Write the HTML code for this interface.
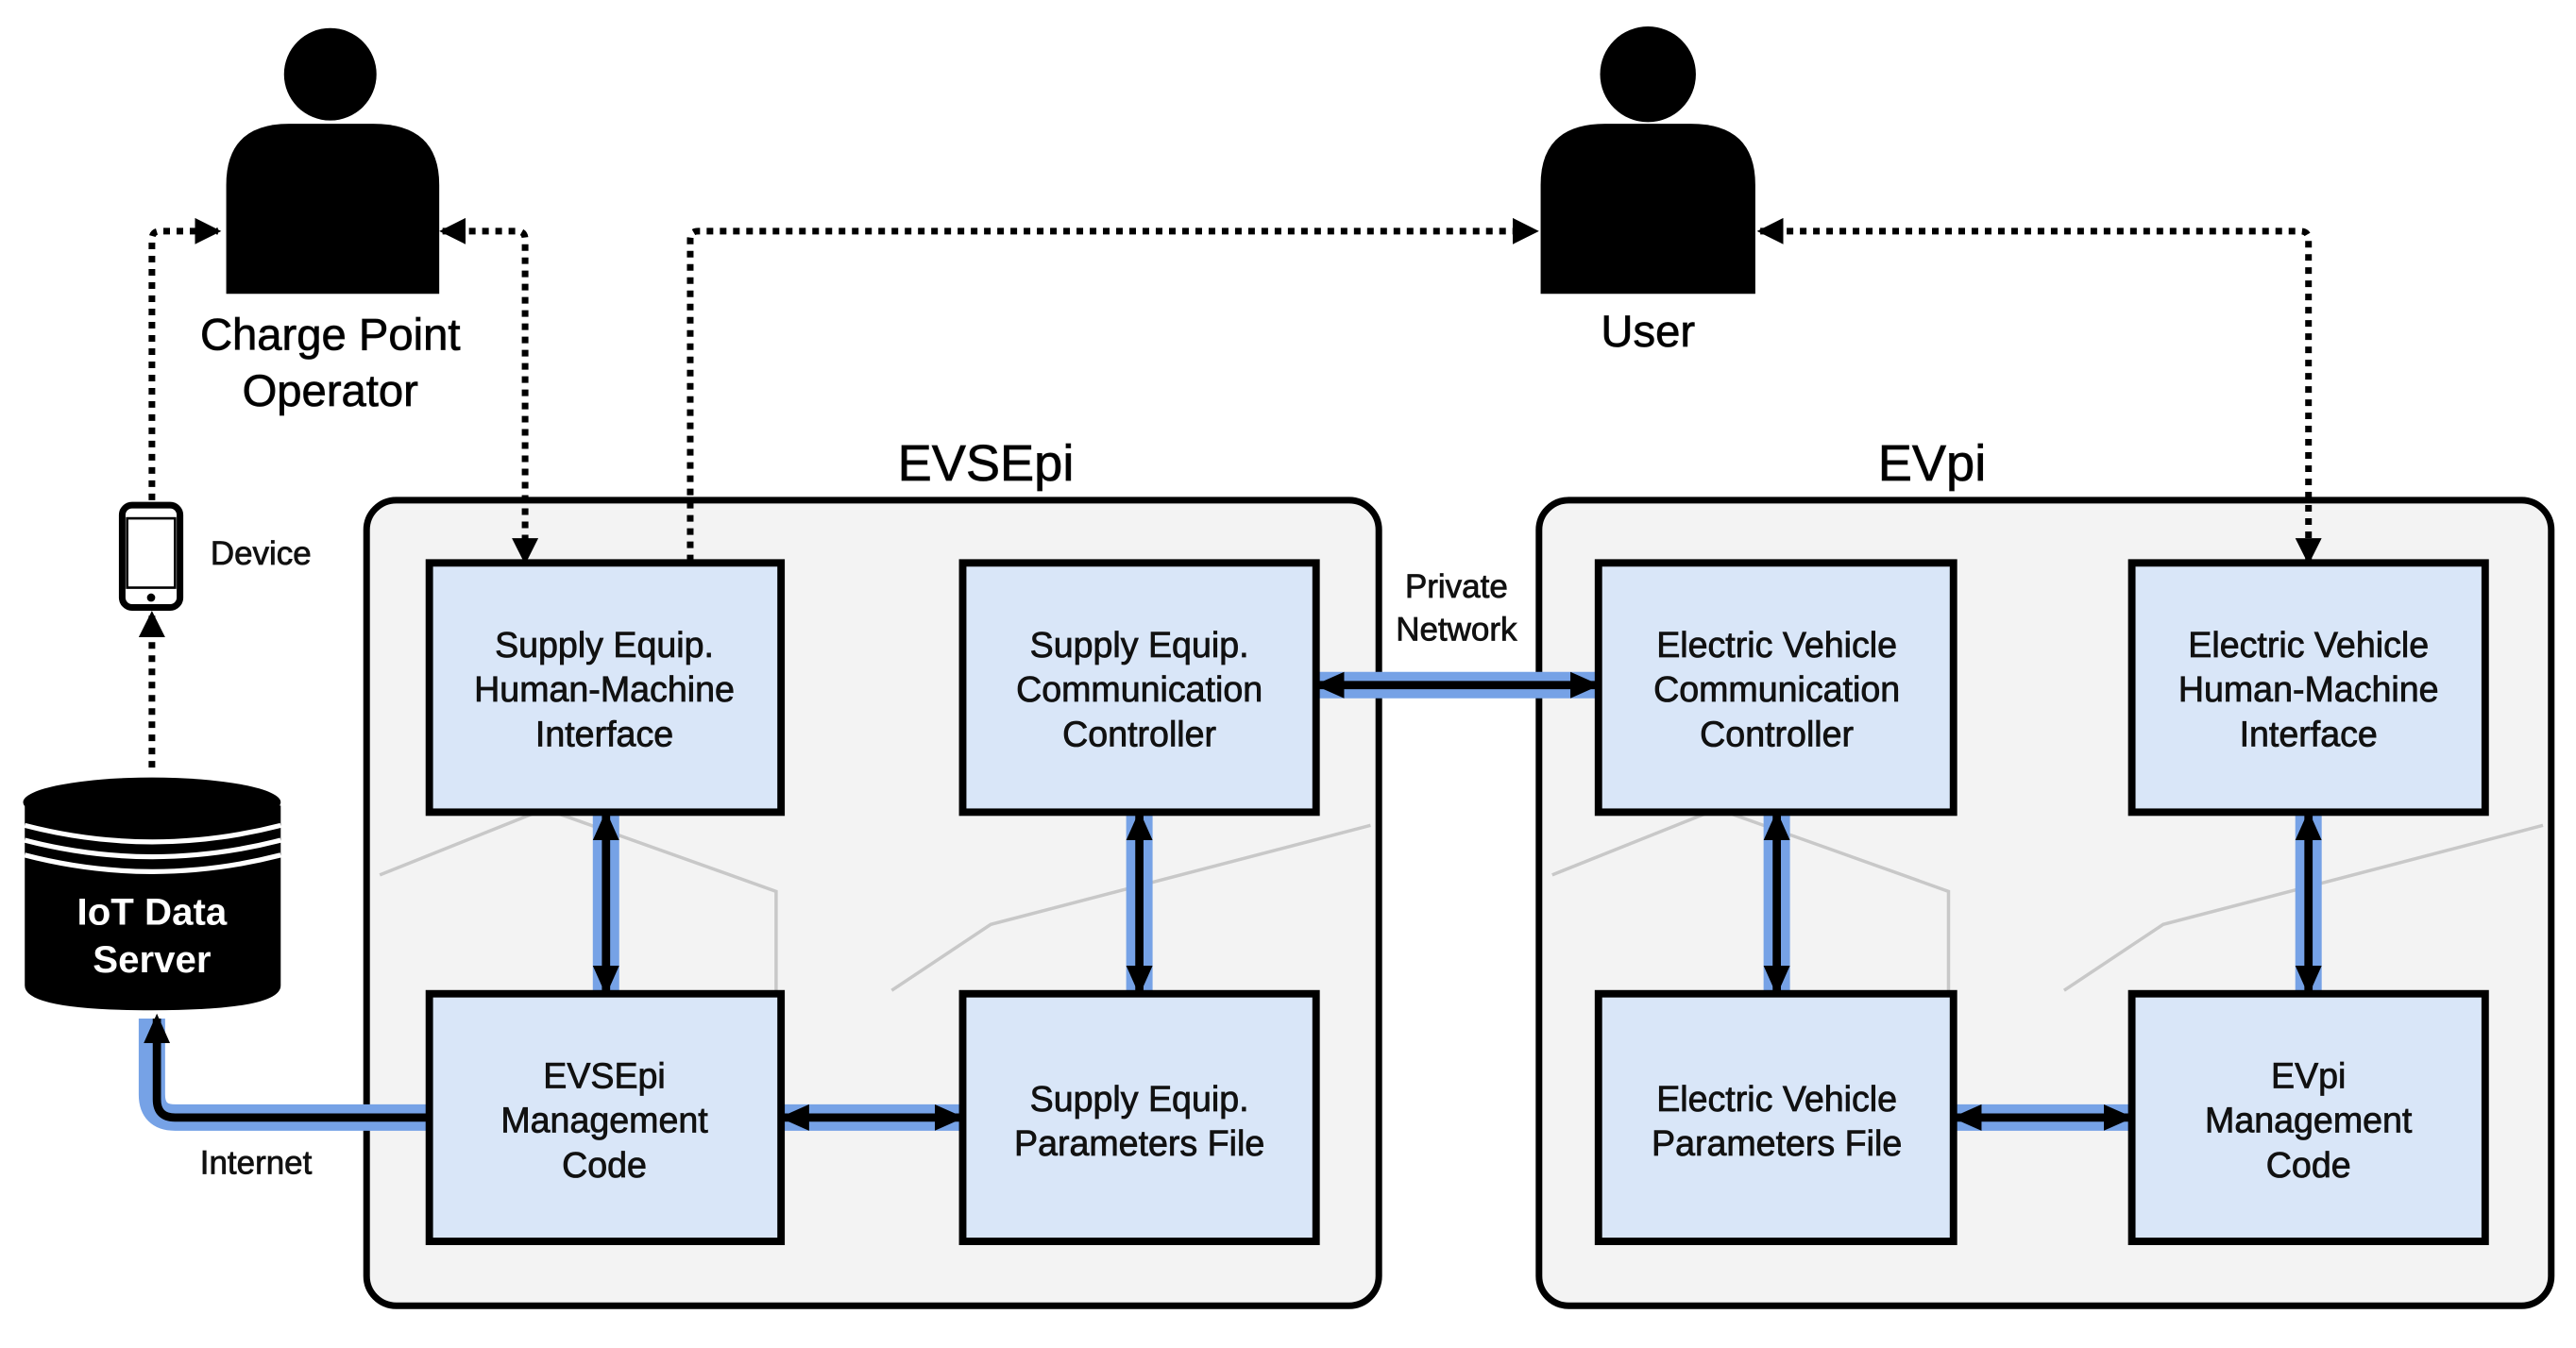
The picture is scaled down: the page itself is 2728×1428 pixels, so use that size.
<!DOCTYPE html>
<html><head><meta charset="utf-8"><style>
html,body{margin:0;padding:0;background:#fff;}
svg{display:block;}
text{font-family:"Liberation Sans",Arial,sans-serif;}
.t{stroke:#111;stroke-width:0.45;}
</style></head><body>
<svg width="2728" height="1428" viewBox="0 0 1560 816.6" preserveAspectRatio="none" xmlns="http://www.w3.org/2000/svg">
<defs>
<marker id="ahs" markerWidth="18" markerHeight="18" refX="15" refY="9" orient="auto-start-reverse" markerUnits="userSpaceOnUse" viewBox="0 0 18 18"><path d="M0,1 L18,9 L0,17 z" fill="#000"/></marker>
<marker id="ahd" markerWidth="16" markerHeight="16" refX="14" refY="8" orient="auto-start-reverse" markerUnits="userSpaceOnUse" viewBox="0 0 16 16"><path d="M0,0 L16,8 L0,16 z" fill="#000"/></marker>
</defs>
<rect width="1560" height="817" fill="#fff"/>

<rect x="222" y="303" width="613" height="488" rx="18" fill="#f3f3f3" stroke="#000" stroke-width="4"/>
<rect x="932" y="303" width="613" height="488" rx="18" fill="#f3f3f3" stroke="#000" stroke-width="4"/>
<g fill="none" stroke="#c8c8c8" stroke-width="2">
<path d="M230 530 L330 490 L470 540 L470 600"/><path d="M540 600 L600 560 L830 500"/>
<path d="M940 530 L1040 490 L1180 540 L1180 600"/><path d="M1250 600 L1310 560 L1540 500"/>
</g>
<text x="597" y="291" font-size="31" text-anchor="middle" class="t">EVSEpi</text>
<text x="1170" y="291" font-size="31" text-anchor="middle" class="t">EVpi</text>

<g stroke="#76a2e6" stroke-width="16" fill="none">
<line x1="367" y1="492" x2="367" y2="602"/>
<line x1="690" y1="492" x2="690" y2="602"/>
<line x1="473" y1="677" x2="583" y2="677"/>
<line x1="797" y1="415" x2="968" y2="415"/>
<line x1="1076" y1="492" x2="1076" y2="602"/>
<line x1="1398" y1="492" x2="1398" y2="602"/>
<line x1="1183" y1="677" x2="1291" y2="677"/>
<path d="M260 677 L106 677 Q92 677 92 663 L92 617"/>
</g>
<g stroke="#000" stroke-width="5" fill="none">
<line x1="367" y1="494" x2="367" y2="600" marker-start="url(#ahs)" marker-end="url(#ahs)"/>
<line x1="690" y1="494" x2="690" y2="600" marker-start="url(#ahs)" marker-end="url(#ahs)"/>
<line x1="475" y1="677" x2="581" y2="677" marker-start="url(#ahs)" marker-end="url(#ahs)"/>
<line x1="799" y1="415" x2="966" y2="415" marker-start="url(#ahs)" marker-end="url(#ahs)"/>
<line x1="1076" y1="494" x2="1076" y2="600" marker-start="url(#ahs)" marker-end="url(#ahs)"/>
<line x1="1398" y1="494" x2="1398" y2="600" marker-start="url(#ahs)" marker-end="url(#ahs)"/>
<line x1="1185" y1="677" x2="1289" y2="677" marker-start="url(#ahs)" marker-end="url(#ahs)"/>
<path d="M260 677 L106 677 Q95 677 95 666 L95 617" marker-end="url(#ahs)"/>
</g>

<g stroke="#000" stroke-width="4" stroke-dasharray="4 4" fill="none">
<line x1="92" y1="465" x2="92" y2="372" marker-end="url(#ahd)"/>
<path d="M92 303 L92 145 Q92 140 97 140 L132 140" marker-end="url(#ahd)"/>
<path d="M268 140 L313 140 Q318 140 318 145 L318 340" marker-start="url(#ahd)" marker-end="url(#ahd)"/>
<path d="M418 340 L418 145 Q418 140 423 140 L930 140" marker-end="url(#ahd)"/>
<path d="M1066 140 L1393 140 Q1398 140 1398 145 L1398 340" marker-start="url(#ahd)" marker-end="url(#ahd)"/>
</g>

<g fill="#d9e6f8" stroke="#000" stroke-width="4.5">
<rect x="260" y="341" width="213" height="151"/>
<rect x="583" y="341" width="214" height="151"/>
<rect x="260" y="602" width="213" height="150"/>
<rect x="583" y="602" width="214" height="150"/>
<rect x="968" y="341" width="215" height="151"/>
<rect x="1291" y="341" width="214" height="151"/>
<rect x="968" y="602" width="215" height="150"/>
<rect x="1291" y="602" width="214" height="150"/>
</g>
<g font-size="21.5" text-anchor="middle" fill="#111" class="t">
<text x="366" y="398">Supply Equip.</text><text x="366" y="425">Human-Machine</text><text x="366" y="452">Interface</text>
<text x="690" y="398">Supply Equip.</text><text x="690" y="425">Communication</text><text x="690" y="452">Controller</text>
<text x="366" y="659">EVSEpi</text><text x="366" y="686">Management</text><text x="366" y="713">Code</text>
<text x="690" y="673">Supply Equip.</text><text x="690" y="700">Parameters File</text>
<text x="1076" y="398">Electric Vehicle</text><text x="1076" y="425">Communication</text><text x="1076" y="452">Controller</text>
<text x="1398" y="398">Electric Vehicle</text><text x="1398" y="425">Human-Machine</text><text x="1398" y="452">Interface</text>
<text x="1076" y="673">Electric Vehicle</text><text x="1076" y="700">Parameters File</text>
<text x="1398" y="659">EVpi</text><text x="1398" y="686">Management</text><text x="1398" y="713">Code</text>
</g>
<g font-size="20" text-anchor="middle" fill="#111" class="t">
<text x="882" y="362">Private</text><text x="882" y="388">Network</text>
<text x="155" y="711">Internet</text>
<text x="158" y="342">Device</text>
</g>

<circle cx="200" cy="45" r="28" fill="#000"/>
<path d="M137 178 L137 112 Q137 75 175 75 L226 75 Q266 75 266 112 L266 178 Z" fill="#000"/>
<text x="200" y="212" font-size="27" text-anchor="middle" class="t">Charge Point</text>
<text x="200" y="246" font-size="27" text-anchor="middle" class="t">Operator</text>
<circle cx="998" cy="45" r="29" fill="#000"/>
<path d="M933 178 L933 112 Q933 75 972 75 L1024 75 Q1063 75 1063 112 L1063 178 Z" fill="#000"/>
<text x="998" y="210" font-size="27" text-anchor="middle" class="t">User</text>

<rect x="74" y="306" width="35" height="62" rx="6" fill="#fff" stroke="#000" stroke-width="4"/>
<rect x="77" y="314" width="29" height="42" fill="#fff" stroke="#000" stroke-width="1.5"/>
<circle cx="91.5" cy="362" r="2.5" fill="#000"/>

<path d="M15 488 L15 597 Q15 612 92 612 Q170 612 170 597 L170 488 Z" fill="#000"/>
<ellipse cx="92" cy="486" rx="78" ry="15" fill="#000"/>
<path d="M15 500 Q92 520 170 500" stroke="#fff" stroke-width="3" fill="none"/>
<path d="M15 509 Q92 529 170 509" stroke="#fff" stroke-width="3" fill="none"/>
<path d="M15 518 Q92 538 170 518" stroke="#fff" stroke-width="3" fill="none"/>
<text x="92" y="560" font-size="23" font-weight="bold" fill="#fff" text-anchor="middle">IoT Data</text>
<text x="92" y="589" font-size="23" font-weight="bold" fill="#fff" text-anchor="middle">Server</text>
</svg>
</body></html>
